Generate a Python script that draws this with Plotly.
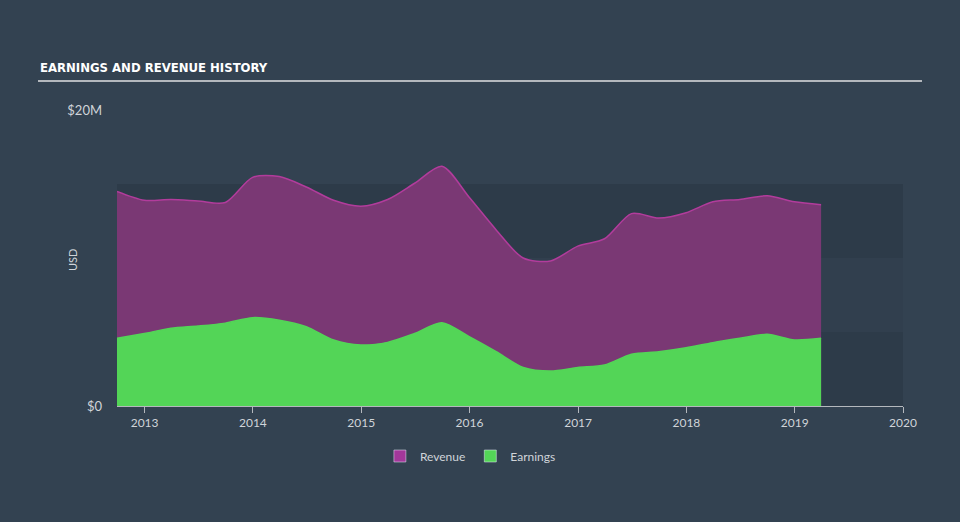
import plotly.graph_objects as go

dates = ["2012-09-30", "2012-12-31", "2013-03-31", "2013-06-30", "2013-09-30",
         "2013-12-31", "2014-03-31", "2014-06-30", "2014-09-30", "2014-12-31",
         "2015-03-31", "2015-06-30", "2015-09-30", "2015-12-31", "2016-03-31",
         "2016-06-30", "2016-09-30", "2016-12-31", "2017-03-31", "2017-06-30",
         "2017-09-30", "2017-12-31", "2018-03-31", "2018-06-30", "2018-09-30",
         "2018-12-31", "2019-03-31"]

revenue_m = [14.5, 13.9, 13.95, 13.85, 13.75, 15.45, 15.5, 14.8, 13.9, 13.5,
             13.95, 15.05, 16.2, 14.1, 11.9, 10.0, 9.8, 10.8, 11.3, 13.0,
             12.7, 13.06, 13.8, 13.96, 14.2, 13.8, 13.6]

earnings_m = [4.57, 4.9, 5.25, 5.4, 5.6, 5.97, 5.8, 5.36, 4.46, 4.12,
              4.3, 4.9, 5.63, 4.68, 3.67, 2.6, 2.36, 2.6, 2.77, 3.5,
              3.67, 3.94, 4.28, 4.57, 4.84, 4.46, 4.57]

y_tick_vals = [0, 20e6]
y_tick_text = ["$0", "$20M"]

revenue = [v * 1e6 for v in revenue_m]
earnings = [v * 1e6 for v in earnings_m]

BG = "#334251"
FONT = "Lato, 'Open Sans', sans-serif"
REV_LINE, REV_FILL = "#b23c9c", "#7a3874"
EARN = "#53d557"

fig = go.Figure()
fig.add_trace(go.Scatter(
    x=dates, y=revenue, name="Revenue", mode="lines", showlegend=False,
    line=dict(color=REV_LINE, width=1.5, shape="spline", smoothing=0.8),
    fill="tozeroy", fillcolor=REV_FILL,
))
fig.add_trace(go.Scatter(
    x=dates, y=earnings, name="Earnings", mode="lines", showlegend=False,
    line=dict(color=EARN, width=1.5, shape="spline", smoothing=0.8),
    fill="tozeroy", fillcolor=EARN,
))
# legend swatches (square)
fig.add_trace(go.Bar(x=[None], y=[None], name="Revenue", marker=dict(color="#a3379a")))
fig.add_trace(go.Bar(x=[None], y=[None], name="Earnings", marker=dict(color=EARN)))

band_colors = ["#2d3b49", "#313f4e", "#2d3b49"]
for i, c in enumerate(band_colors):
    fig.add_shape(type="rect", xref="paper", yref="y", x0=0, x1=1,
                  y0=i * 5e6, y1=(i + 1) * 5e6, fillcolor=c,
                  line=dict(width=0), layer="below")

# title underline
fig.add_shape(type="line", xref="paper", yref="paper",
              x0=(38 - 117) / 786, x1=(922 - 117) / 786,
              y0=(406 - 81) / 296, y1=(406 - 81) / 296,
              line=dict(color="#b4b8bd", width=2))

fig.add_annotation(text="EARNINGS AND REVENUE HISTORY", xref="paper", yref="paper",
                   x=(38 - 117) / 786, y=(406 - 67) / 296, xanchor="left", yanchor="middle",
                   showarrow=False,
                   font=dict(family="DejaVu Sans Condensed", weight="bold",
                             size=13, color="#ffffff"))

fig.add_annotation(text="USD", xref="paper", yref="paper",
                   x=(72 - 117) / 786, y=(406 - 260) / 296, xanchor="center", yanchor="middle",
                   textangle=-90, showarrow=False,
                   font=dict(family=FONT, size=11, color="#d0d4d9"))

fig.update_layout(
    width=960, height=522,
    margin=dict(l=117, r=57, t=110, b=116),
    paper_bgcolor=BG, plot_bgcolor=BG,
    font=dict(family=FONT, color="#d0d4d9", size=12),
    showlegend=True,
    legend=dict(orientation="h", xref="container", yref="container",
                x=0.49, xanchor="center", y=1 - 456 / 522, yanchor="middle",
                font=dict(size=12, color="#d0d4d9"), bgcolor="rgba(0,0,0,0)",
                itemwidth=30),
    xaxis=dict(
        type="date", range=["2012-09-30", "2020-01-01"],
        showgrid=False, zeroline=False,
        showline=True, linecolor="#b4b8bd", linewidth=1,
        ticks="outside", ticklen=6, tickcolor="#b4b8bd",
        dtick="M12", tick0="2013-01-01", tickformat="%Y",
        tickfont=dict(size=12, color="#d0d4d9"),
    ),
    yaxis=dict(
        range=[0, 20e6], tickvals=y_tick_vals, ticktext=y_tick_text,
        showgrid=False, zeroline=False, showline=False, ticks="",
        ticklabelstandoff=14,
        tickfont=dict(size=13, color="#d0d4d9"),
    ),
)

fig.write_html("out.html")
